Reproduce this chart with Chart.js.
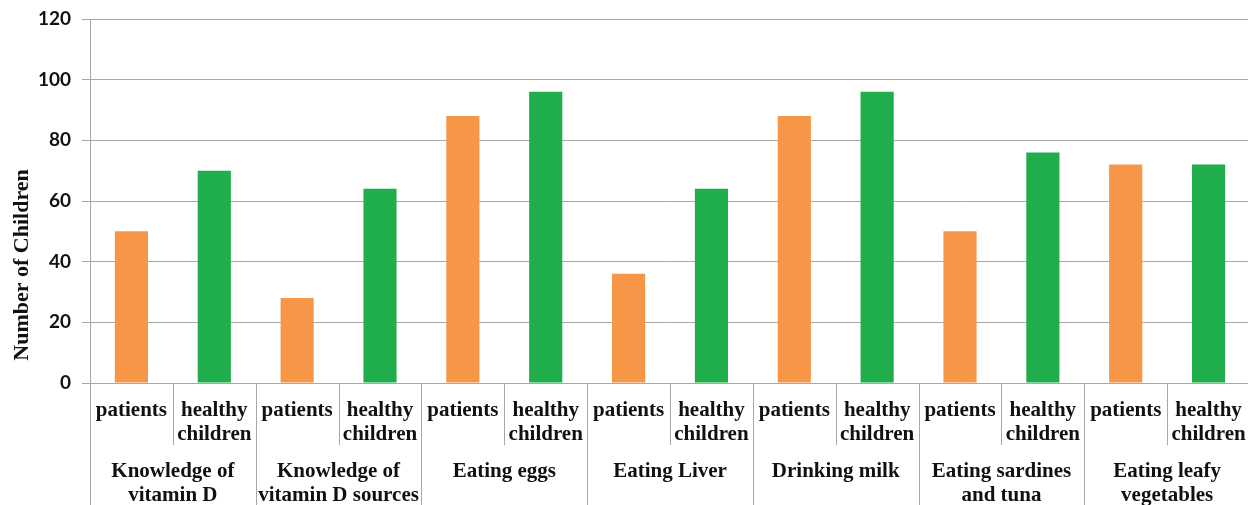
<!DOCTYPE html>
<html>
<head>
<meta charset="utf-8">
<script src="https://cdn.jsdelivr.net/npm/chart.js@4"></script>
<style>
html,body{margin:0;padding:0;background:#fff;overflow:hidden;}
#wrap{width:1250px;height:505px;}
</style>
</head>
<body>
<div id="wrap"><canvas id="c" width="1250" height="505"></canvas></div>
<script>
// ---- data ----
const groupLabels = [
  ['Knowledge of', 'vitamin D'],
  ['Knowledge of', 'vitamin D sources'],
  ['Eating eggs'],
  ['Eating Liver'],
  ['Drinking milk'],
  ['Eating sardines', 'and tuna'],
  ['Eating leafy', 'vegetables']
];
const subLabels = ['patients', ['healthy', 'children']];
const patientsValues = [50, 28, 88, 36, 88, 50, 72];
const healthyValues  = [70, 64, 96, 64, 96, 76, 72];
const yMin = 0, yMax = 120, yStep = 20;
const yTitle = 'Number of Children';

// ---- build library inputs ----
const xLabels = [];
const patientsData = [];
const healthyData = [];
groupLabels.forEach((g, i) => {
  xLabels.push(subLabels[0]);
  xLabels.push(subLabels[1]);
  patientsData.push(patientsValues[i], null);
  healthyData.push(null, healthyValues[i]);
});

const ORANGE = '#F79646';
const GREEN = '#1FAE4B';
const GRID = '#A8A8A8';
const SERIF = '"Liberation Serif", "Times New Roman", serif';

const extrasPlugin = {
  id: 'extras',
  afterDraw(chart) {
    const ctx = chart.ctx;
    const x = chart.scales.x;
    const area = chart.chartArea;
    const n = xLabels.length;
    const slot = (x.getPixelForValue(1) - x.getPixelForValue(0));
    ctx.save();
    ctx.strokeStyle = GRID;
    ctx.lineWidth = 1;
    for (let i = 0; i <= n; i++) {
      const px = Math.round(x.getPixelForValue(0) - slot / 2 + i * slot) + 0.5;
      const yEnd = (i % 2 === 0) ? chart.height : 445;
      ctx.beginPath();
      ctx.moveTo(px, area.bottom);
      ctx.lineTo(px, yEnd);
      ctx.stroke();
    }
    // group labels
    ctx.fillStyle = '#111';
    ctx.font = 'bold 21px ' + SERIF;
    ctx.textAlign = 'center';
    ctx.textBaseline = 'alphabetic';
    groupLabels.forEach((lines, g) => {
      const cx = (x.getPixelForValue(2 * g) + x.getPixelForValue(2 * g + 1)) / 2;
      lines.forEach((t, li) => {
        ctx.fillText(t, cx, 477 + li * 24);
      });
    });
    // y axis title
    ctx.translate(28, 265);
    ctx.rotate(-Math.PI / 2);
    ctx.font = 'bold 22px ' + SERIF;
    ctx.fillText(yTitle, 0, 0);
    ctx.restore();
  }
};

function build() {
  new Chart(document.getElementById('c'), {
    type: 'bar',
    data: {
      labels: xLabels,
      datasets: [
        { label: 'patients', data: patientsData, backgroundColor: ORANGE, borderWidth: 0 },
        { label: 'healthy children', data: healthyData, backgroundColor: GREEN, borderWidth: 0 }
      ]
    },
    options: {
      responsive: false,
      animation: false,
      devicePixelRatio: 1,
      layout: { padding: { top: 19, left: 0, right: 0, bottom: 0 } },
      plugins: { legend: { display: false }, tooltip: { enabled: false } },
      datasets: { bar: { grouped: false, barPercentage: 0.4, categoryPercentage: 1.0 } },
      scales: {
        x: {
          type: 'category',
          offset: true,
          grid: { display: false },
          border: { display: false },
          ticks: {
            autoSkip: false,
            maxRotation: 0,
            minRotation: 0,
            padding: 8,
            color: '#111',
            font: { family: SERIF, size: 21, weight: 'bold', lineHeight: 1.12 }
          },
          afterFit(scale) {
            scale.height = 122;
            scale.paddingLeft = 0;
            scale.paddingRight = 0;
          }
        },
        y: {
          min: yMin,
          max: yMax,
          grid: { color: GRID, lineWidth: 1, tickLength: 8 },
          border: { display: true, color: GRID, width: 1 },
          ticks: {
            stepSize: yStep,
            padding: 11,
            color: '#111',
            font: { family: 'Lato, "Open Sans", sans-serif', size: 19, weight: 'bold' }
          },
          afterFit(scale) {
            scale.width = 90;
            scale.paddingTop = 0;
            scale.paddingBottom = 0;
          }
        }
      }
    },
    plugins: [extrasPlugin]
  });
}

Promise.all([
  document.fonts.load('bold 19px Lato'),
  document.fonts.load('bold 21px "Liberation Serif"')
]).then(build, build);
</script>
</body>
</html>
